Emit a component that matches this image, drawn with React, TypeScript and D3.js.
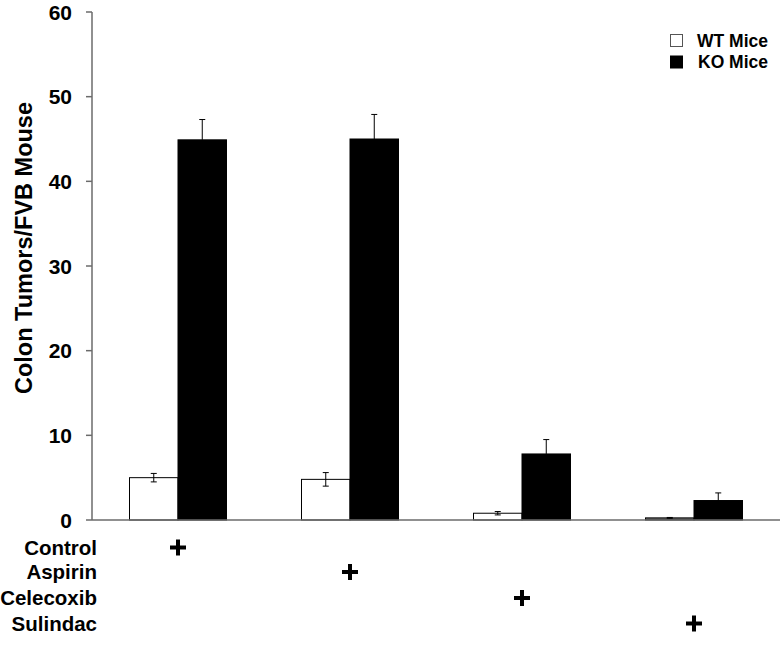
import React from "react";
import * as d3 from "d3";

const groups = ["Control", "Aspirin", "Celecoxib", "Sulindac"];
const series = ["WT Mice", "KO Mice"];
const wtValues = [5.0, 4.8, 0.8, 0.25];
const wtErrors = [0.5, 0.8, 0.2, 0.05];
const koValues = [44.9, 45.0, 7.8, 2.3];
const koErrors = [2.4, 2.9, 1.7, 0.9];
const yTicks = [0, 10, 20, 30, 40, 50, 60];

export default function App() {
  const W = 780, H = 648;
  const left = 92, right = 780, top = 12, bottom = 520;
  const x = d3.scaleBand<string>().domain(groups).range([left, right]).paddingInner(0).paddingOuter(0);
  const y = d3.scaleLinear().domain([0, 60]).range([bottom, top]);
  const barW = 48.5;
  const font = "Arial, 'Liberation Sans', sans-serif";
  const axisColor = "#6b6b6b";
  const values = [wtValues, koValues];
  const errs = [wtErrors, koErrors];
  const rowY = [547.5, 572, 598, 623.5];

  return (
    <svg width={W} height={H} style={{ position: "absolute", left: 0, top: 0, background: "#fff" }} fontFamily={font}>
      <rect x={0} y={0} width={W} height={H} fill="#fff" />
      {groups.map((g, gi) => {
        const c = (x(g) as number) + x.bandwidth() / 2;
        return series.map((s, si) => {
          const v = values[si][gi];
          const e = errs[si][gi];
          const x0 = si === 0 ? c - barW : c;
          const yt = y(v);
          const isWT = si === 0;
          const ex = x0 + barW / 2;
          return (
            <g key={g + s}>
              <rect x={x0} y={yt} width={barW} height={bottom - yt}
                fill={isWT ? (v < 0.5 ? "#666" : "#fff") : "#000"}
                stroke="#000" strokeWidth={1} />
              {isWT ? (
                <g stroke="#000" strokeWidth={1}>
                  <line x1={ex} x2={ex} y1={y(v + e)} y2={y(v - e)} />
                  <line x1={ex - 3} x2={ex + 3} y1={y(v + e)} y2={y(v + e)} />
                  <line x1={ex - 3} x2={ex + 3} y1={y(v - e)} y2={y(v - e)} />
                </g>
              ) : (
                <g stroke="#000" strokeWidth={1}>
                  <line x1={ex} x2={ex} y1={y(v + e)} y2={yt} />
                  <line x1={ex - 3} x2={ex + 3} y1={y(v + e)} y2={y(v + e)} />
                </g>
              )}
            </g>
          );
        });
      })}
      <line x1={left} x2={left} y1={top} y2={bottom} stroke={axisColor} strokeWidth={1.5} />
      <line x1={left} x2={right} y1={bottom} y2={bottom} stroke={axisColor} strokeWidth={1.5} />
      {yTicks.map((t) => (
        <g key={t}>
          <line x1={left - 6} x2={left} y1={y(t)} y2={y(t)} stroke={axisColor} strokeWidth={1.5} />
          <text x={left - 20} y={y(t)} dy="0.36em" textAnchor="end" fontSize={21} fontWeight="bold" fill="#000">{t}</text>
        </g>
      ))}
      <text transform={`translate(32,248) rotate(-90)`} textAnchor="middle" fontSize={23.5} fontWeight="bold" fill="#000">Colon Tumors/FVB Mouse</text>
      {groups.map((g, gi) => {
        const c = (x(g) as number) + x.bandwidth() / 2;
        const ry = rowY[gi];
        return (
          <g key={"row" + g}>
            <text x={97} y={ry} dy="0.36em" textAnchor="end" fontSize={20.5} fontWeight="bold" fill="#000">{g}</text>
            <g stroke="#000" strokeWidth={4}>
              <line x1={c - 8} x2={c + 8} y1={ry} y2={ry} />
              <line x1={c} x2={c} y1={ry - 8} y2={ry + 8} />
            </g>
          </g>
        );
      })}
      {series.map((s, si) => (
        <g key={"leg" + s}>
          <rect x={670.5} y={34.5 + si * 21.5} width={12} height={12} fill={si === 0 ? "#fff" : "#000"} stroke={si === 0 ? "#555" : "#000"} />
          <text x={si === 0 ? 697 : 698} y={41 + si * 21} dy="0.36em" fontSize={17.5} fontWeight="bold" fill="#000">{s}</text>
        </g>
      ))}
    </svg>
  );
}
